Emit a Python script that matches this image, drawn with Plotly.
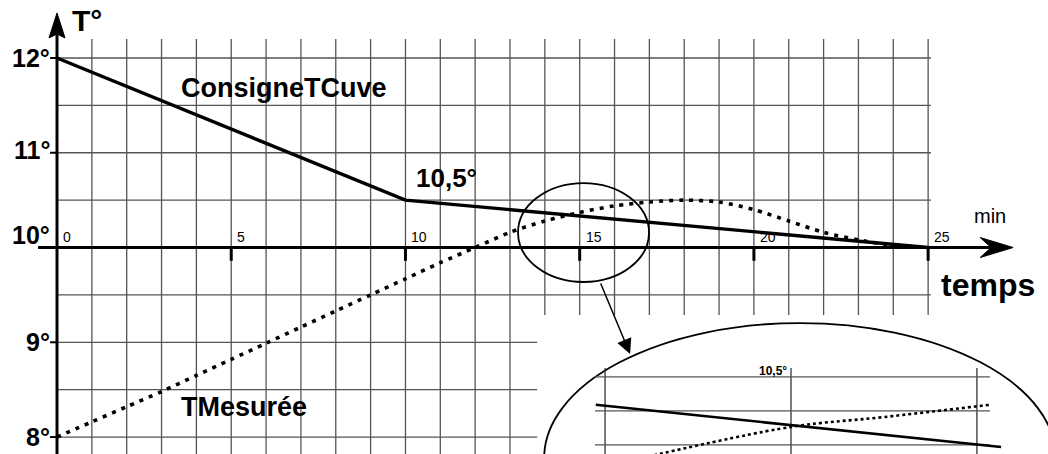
import plotly.graph_objects as go

# Setpoint temperature (ConsigneTCuve), minutes -> degrees
temps_consigne = [0, 10, 25]
consigne = [12.0, 10.5, 10.0]

# Measured temperature (TMesurée), one reading per minute
temps_mesure = list(range(0, 25))
mesure = [8.0, 8.16, 8.32, 8.48, 8.65, 8.82, 8.99, 9.16, 9.33, 9.5, 9.67, 9.84,
          10.0, 10.16, 10.28, 10.37, 10.44, 10.48, 10.5, 10.48, 10.4, 10.28,
          10.16, 10.08, 10.02]

# Magnified view around the crossing point
zoom_t_consigne = [13.95, 15.0, 16.13]
zoom_consigne = [10.418, 10.359, 10.294]
zoom_t_mesure = [14.2, 15.0, 15.5, 16.07]
zoom_mesure = [10.262, 10.353, 10.382, 10.418]

# Axis labels
x_ticks = [0, 5, 10, 15, 20, 25]
x_tick_labels = ["0", "5", "10", "15", "20", "25"]
y_ticks = [8, 9, 10, 11, 12]
y_tick_labels = ["8°", "9°", "10°", "11°", "12°"]
zoom_x_grid = [14, 15, 16]
zoom_y_grid = [10.3, 10.4, 10.5]

X_RANGE = [-1.636, 28.44]
Y_RANGE = [7.821, 12.612]
GRID = "#555555"
FONT = "Liberation Sans, Arial, sans-serif"

fig = go.Figure()

fig.add_trace(go.Scatter(
    x=temps_consigne, y=consigne, mode="lines",
    line=dict(color="black", width=3.4), hoverinfo="skip"))
fig.add_trace(go.Scatter(
    x=temps_mesure, y=mesure, mode="lines",
    line=dict(color="black", width=3.6, dash="4px,6px", shape="spline", smoothing=0.8),
    hoverinfo="skip"))

fig.add_trace(go.Scatter(
    x=zoom_t_consigne, y=zoom_consigne, mode="lines", xaxis="x2", yaxis="y2",
    line=dict(color="black", width=2.6), hoverinfo="skip"))
fig.add_trace(go.Scatter(
    x=zoom_t_mesure, y=zoom_mesure, mode="lines", xaxis="x2", yaxis="y2",
    line=dict(color="black", width=2.6, dash="3px,3px", shape="spline"),
    hoverinfo="skip"))

shapes = []
# main grid: one column per minute, one row per half degree
for m in range(1, 26):
    top = 12.2
    bottom = 9.288 if m >= 14 else Y_RANGE[0]
    shapes.append(dict(type="line", xref="x", yref="y", x0=m, x1=m, y0=bottom, y1=top,
                       line=dict(color=GRID, width=1.3), layer="below"))
for k in range(9):
    yv = 8 + 0.5 * k
    right = 13.78 if yv < 9.3 else 25.08
    shapes.append(dict(type="line", xref="x", yref="y", x0=0, x1=right, y0=yv, y1=yv,
                       line=dict(color=GRID, width=1.3), layer="below"))

# large magnifier outline
shapes.append(dict(type="circle", xref="x", yref="y", x0=13.98, x1=28.67, y0=6.354, y1=9.203,
                   fillcolor="white", line=dict(color="black", width=1.8), layer="below"))

# axes
shapes.append(dict(type="line", xref="x", yref="y", x0=0, x1=0, y0=7.6, y1=12.3,
                   line=dict(color="black", width=3), layer="below"))
shapes.append(dict(type="line", xref="x", yref="y", x0=-0.545, x1=27.3, y0=10, y1=10,
                   line=dict(color="black", width=3), layer="below"))
for t in x_ticks[1:]:
    shapes.append(dict(type="line", xref="x", yref="y", x0=t, x1=t, y0=10, y1=9.86,
                       line=dict(color="black", width=3), layer="below"))
for v in y_ticks:
    shapes.append(dict(type="line", xref="x", yref="y", x0=-0.2, x1=0, y0=v, y1=v,
                       line=dict(color="black", width=2), layer="below"))

# arrow heads (pixel-sized, anchored at the tips)
shapes.append(dict(type="path", xref="x", yref="y", xsizemode="pixel", ysizemode="pixel",
                   xanchor=0, yanchor=12.475,
                   path="M0,0 L-8,-25 L0,-21 L8,-25 Z",
                   fillcolor="black", line=dict(color="black", width=1), layer="above"))
shapes.append(dict(type="path", xref="x", yref="y", xsizemode="pixel", ysizemode="pixel",
                   xanchor=27.44, yanchor=10,
                   path="M0,0 L-33,10 L-22,0 L-33,-10 Z",
                   fillcolor="black", line=dict(color="black", width=1), layer="above"))

# ring around the crossing
shapes.append(dict(type="circle", xref="x", yref="y", x0=13.23, x1=16.99, y0=9.636, y1=10.68,
                   line=dict(color="black", width=1.8), layer="above"))

# grid of the magnified view
for g in zoom_x_grid:
    shapes.append(dict(type="line", xref="x2", yref="y2", x0=g, x1=g, y0=10.2, y1=10.526,
                       line=dict(color="#333333", width=1.3), layer="below"))
for g in zoom_y_grid:
    shapes.append(dict(type="line", xref="x2", yref="y2", x0=13.946, x1=16.07, y0=g, y1=g,
                       line=dict(color="#555555", width=1.2), layer="below"))

annotations = []
for t, lab in zip(x_ticks, x_tick_labels):
    annotations.append(dict(x=t + 0.115, y=10.106, xref="x", yref="y", text=lab,
                            showarrow=False, xanchor="left", yanchor="middle",
                            font=dict(family=FONT, size=14, color="black")))
y_label_pos = {8: 8.0, 9: 9.0, 10: 10.137, 11: 11.03, 12: 12.0}
for v, lab in zip(y_ticks, y_tick_labels):
    annotations.append(dict(x=-0.13, y=y_label_pos[v], xref="x", yref="y", text="<b>" + lab + "</b>",
                            showarrow=False, xanchor="right", yanchor="middle",
                            font=dict(family=FONT, size=25, color="black")))

def label(x, y, text, size, bold=True, xref="x", yref="y", xanchor="left"):
    annotations.append(dict(x=x, y=y, xref=xref, yref=yref,
                            text=("<b>%s</b>" % text) if bold else text,
                            showarrow=False, xanchor=xanchor, yanchor="middle",
                            font=dict(family=FONT, size=size, color="black")))

label(0.37, 12.40, "T°", 30)
label(3.50, 11.68, "ConsigneTCuve", 27)
label(3.50, 8.317, "TMesurée", 27)
label(10.25, 10.733, "10,5°", 26)
label(25.30, 9.604, "temps", 32)
label(26.25, 10.33, "min", 20, bold=False)
label(14.99, 10.517, "10,5°", 12, xref="x2", yref="y2", xanchor="right")

# pointer from the ring to the magnified view
annotations.append(dict(x=16.447, y=8.876, ax=15.585, ay=9.636, xref="x", yref="y",
                        axref="x", ayref="y", text="", showarrow=True,
                        arrowhead=2, arrowsize=2, arrowwidth=1.5, arrowcolor="black"))

fig.update_layout(
    width=1048, height=454,
    margin=dict(l=0, r=0, t=0, b=0),
    paper_bgcolor="white", plot_bgcolor="rgba(0,0,0,0)",
    showlegend=False,
    xaxis=dict(range=X_RANGE, visible=False, fixedrange=True, domain=[0, 1]),
    yaxis=dict(range=Y_RANGE, visible=False, fixedrange=True, domain=[0, 1]),
    xaxis2=dict(range=[13.919, 16.151], visible=False, fixedrange=True,
                domain=[590 / 1048, 1005 / 1048], anchor="y2"),
    yaxis2=dict(range=[10.2735, 10.526], visible=False, fixedrange=True,
                domain=[0, 86 / 454], anchor="x2"),
    shapes=shapes,
    annotations=annotations,
)

fig.write_html("out.html")
